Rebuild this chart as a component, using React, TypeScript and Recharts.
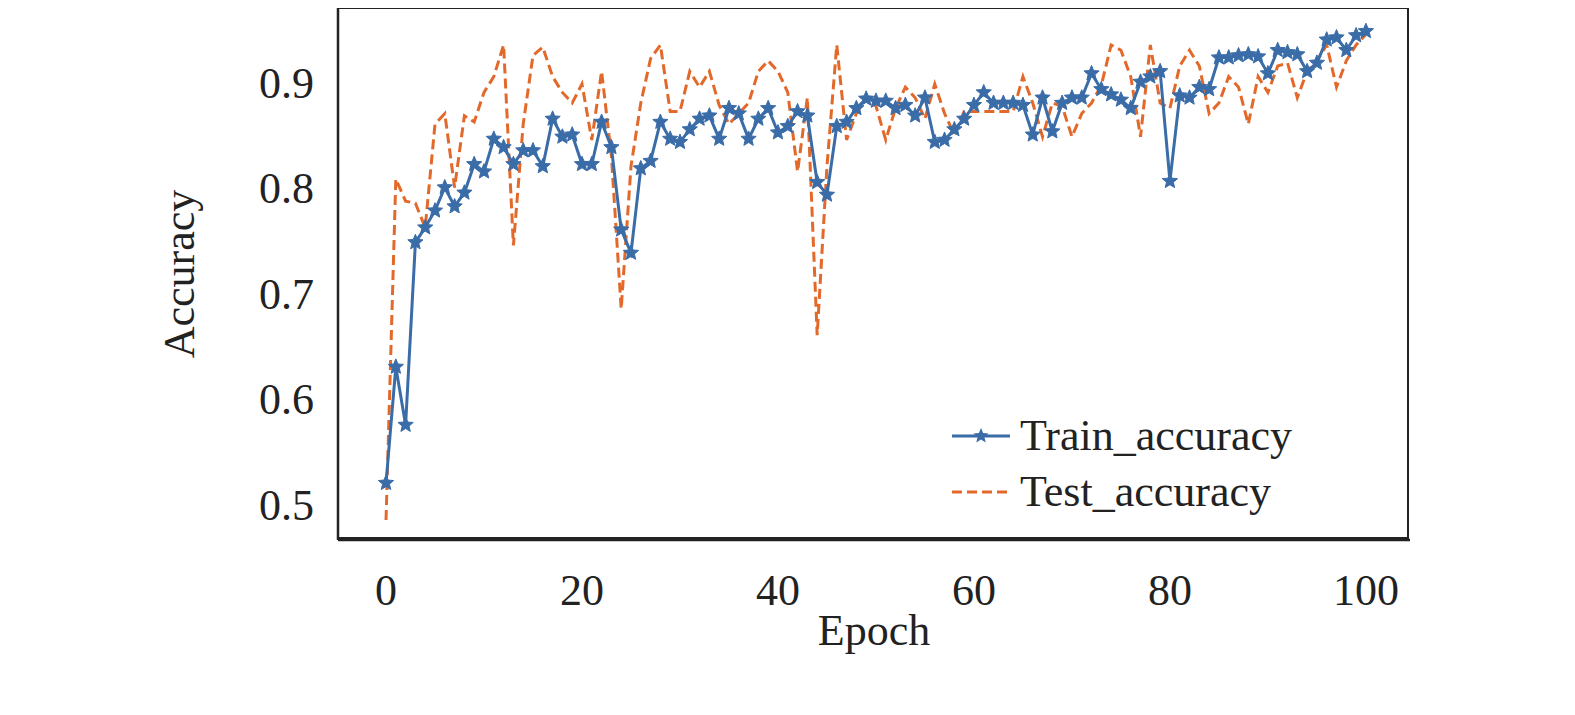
import React from "react";
import { LineChart, Line, XAxis, YAxis } from "recharts";

const epochs = Array.from({ length: 101 }, (_, i) => i);

const trainAccuracy = [
  0.52, 0.63, 0.575, 0.748, 0.762, 0.778, 0.8, 0.782, 0.795, 0.822,
  0.815, 0.846, 0.838, 0.822, 0.835, 0.835, 0.82, 0.865, 0.848, 0.85,
  0.822, 0.822, 0.862, 0.838, 0.76, 0.738, 0.818, 0.825, 0.862, 0.846,
  0.843, 0.855, 0.865, 0.868, 0.846, 0.875, 0.87, 0.846, 0.865, 0.875,
  0.852, 0.858, 0.872, 0.868, 0.805, 0.793, 0.858, 0.862, 0.875, 0.884,
  0.882, 0.882, 0.875, 0.878, 0.868, 0.885, 0.843, 0.845, 0.855, 0.865,
  0.878, 0.89, 0.88, 0.88, 0.88, 0.878, 0.85, 0.885, 0.853, 0.88,
  0.885, 0.885, 0.908, 0.893, 0.888, 0.883, 0.875, 0.9, 0.905, 0.91,
  0.806, 0.887, 0.885, 0.895, 0.893, 0.923, 0.923, 0.925, 0.926, 0.924,
  0.908, 0.93, 0.928, 0.926, 0.91, 0.918, 0.94, 0.942, 0.93, 0.944, 0.948,
];

const testAccuracy = [
  0.485, 0.808, 0.787, 0.785, 0.762, 0.86, 0.87, 0.8, 0.868, 0.862,
  0.89, 0.905, 0.935, 0.745, 0.86, 0.925, 0.933, 0.905, 0.89, 0.88,
  0.898, 0.845, 0.91, 0.83, 0.685, 0.82, 0.88, 0.922, 0.935, 0.872,
  0.872, 0.91, 0.895, 0.91, 0.878, 0.86, 0.87, 0.88, 0.91, 0.92,
  0.91, 0.89, 0.815, 0.885, 0.66, 0.82, 0.935, 0.845, 0.87, 0.885,
  0.877, 0.845, 0.875, 0.895, 0.885, 0.865, 0.898, 0.87, 0.85, 0.872,
  0.872, 0.872, 0.872, 0.872, 0.872, 0.905, 0.88, 0.848, 0.88, 0.877,
  0.848, 0.87, 0.88, 0.897, 0.935, 0.93, 0.905, 0.848, 0.935, 0.88,
  0.875, 0.915, 0.93, 0.915, 0.87, 0.88, 0.905, 0.895, 0.86, 0.905,
  0.89, 0.915, 0.918, 0.885, 0.91, 0.92, 0.935, 0.895, 0.92, 0.935, 0.945,
];

const xTicks = [0, 20, 40, 60, 80, 100];
const yTicks = [0.5, 0.6, 0.7, 0.8, 0.9];

const data = epochs.map((e, i) => ({ epoch: e, train: trainAccuracy[i], test: testAccuracy[i] }));

const BLUE = "#3a6ca8";
const ORANGE = "#e3692a";
const FONT = "'Liberation Serif', 'Times New Roman', serif";

function starPath(cx: number, cy: number, r: number) {
  const pts: string[] = [];
  for (let k = 0; k < 10; k++) {
    const rad = k % 2 === 0 ? r : r * 0.45;
    const a = -Math.PI / 2 + (k * Math.PI) / 5;
    pts.push(`${cx + rad * Math.cos(a)},${cy + rad * Math.sin(a)}`);
  }
  return `M${pts.join("L")}Z`;
}

const Star = (props: any) => {
  const { cx, cy, index } = props;
  if (cx == null || cy == null) return <g key={index} />;
  return <path key={index} d={starPath(cx, cy, 8)} fill={BLUE} stroke={BLUE} strokeWidth={1} />;
};

const LegendBox = () => (
  <div style={{ position: "absolute", left: 950, top: 408, fontFamily: FONT, fontSize: 44, color: "#222", lineHeight: "56px" }}>
    <div style={{ display: "flex", alignItems: "center" }}>
      <svg width={62} height={20} style={{ marginRight: 8 }}>
        <line x1={2} y1={10} x2={60} y2={10} stroke={BLUE} strokeWidth={3} />
        <path d={starPath(31, 10, 8)} fill={BLUE} />
      </svg>
      Train_accuracy
    </div>
    <div style={{ display: "flex", alignItems: "center" }}>
      <svg width={62} height={20} style={{ marginRight: 8 }}>
        <line x1={2} y1={10} x2={60} y2={10} stroke={ORANGE} strokeWidth={3} strokeDasharray="10 5" />
      </svg>
      Test_accuracy
    </div>
  </div>
);

export default function App() {
  return (
    <div style={{ margin: -8, width: 1575, height: 715, background: "#fff", position: "relative" }}>
      <LineChart width={1575} height={715} data={data} margin={{ top: 8, right: 165, bottom: 115, left: 258 }}>
        <XAxis
          dataKey="epoch"
          type="number"
          domain={[-4.9, 104.5]}
          ticks={xTicks}
          axisLine={{ stroke: "#222", strokeWidth: 2.5 }}
          tickLine={false}
          tick={{ fontSize: 44, fill: "#222", fontFamily: FONT }}
          height={60}
          dy={26}
          label={{ value: "Epoch", position: "insideBottom", offset: -45, fontSize: 44, fill: "#222", fontFamily: FONT }}
        />
        <YAxis
          type="number"
          domain={[0.466, 0.97]}
          ticks={yTicks}
          tickFormatter={(v: number) => v.toFixed(1)}
          axisLine={{ stroke: "#222", strokeWidth: 2.5 }}
          tickLine={false}
          tick={{ fontSize: 44, fill: "#222", fontFamily: FONT }}
          width={80}
          dx={-16}
          label={{ value: "Accuracy", angle: -90, position: "insideLeft", offset: -80, fontSize: 44, fill: "#222", fontFamily: FONT, style: { textAnchor: "middle" } }}
        />
        <Line dataKey="test" stroke={ORANGE} strokeWidth={3} strokeDasharray="10 5" dot={false} isAnimationActive={false} />
        <Line dataKey="train" stroke={BLUE} strokeWidth={3} dot={Star} isAnimationActive={false} />
      </LineChart>
      <div style={{ position: "absolute", left: 337, top: 7, width: 1072, height: 532, border: "2.5px solid #222", boxSizing: "border-box", pointerEvents: "none" }} />
      <LegendBox />
    </div>
  );
}
